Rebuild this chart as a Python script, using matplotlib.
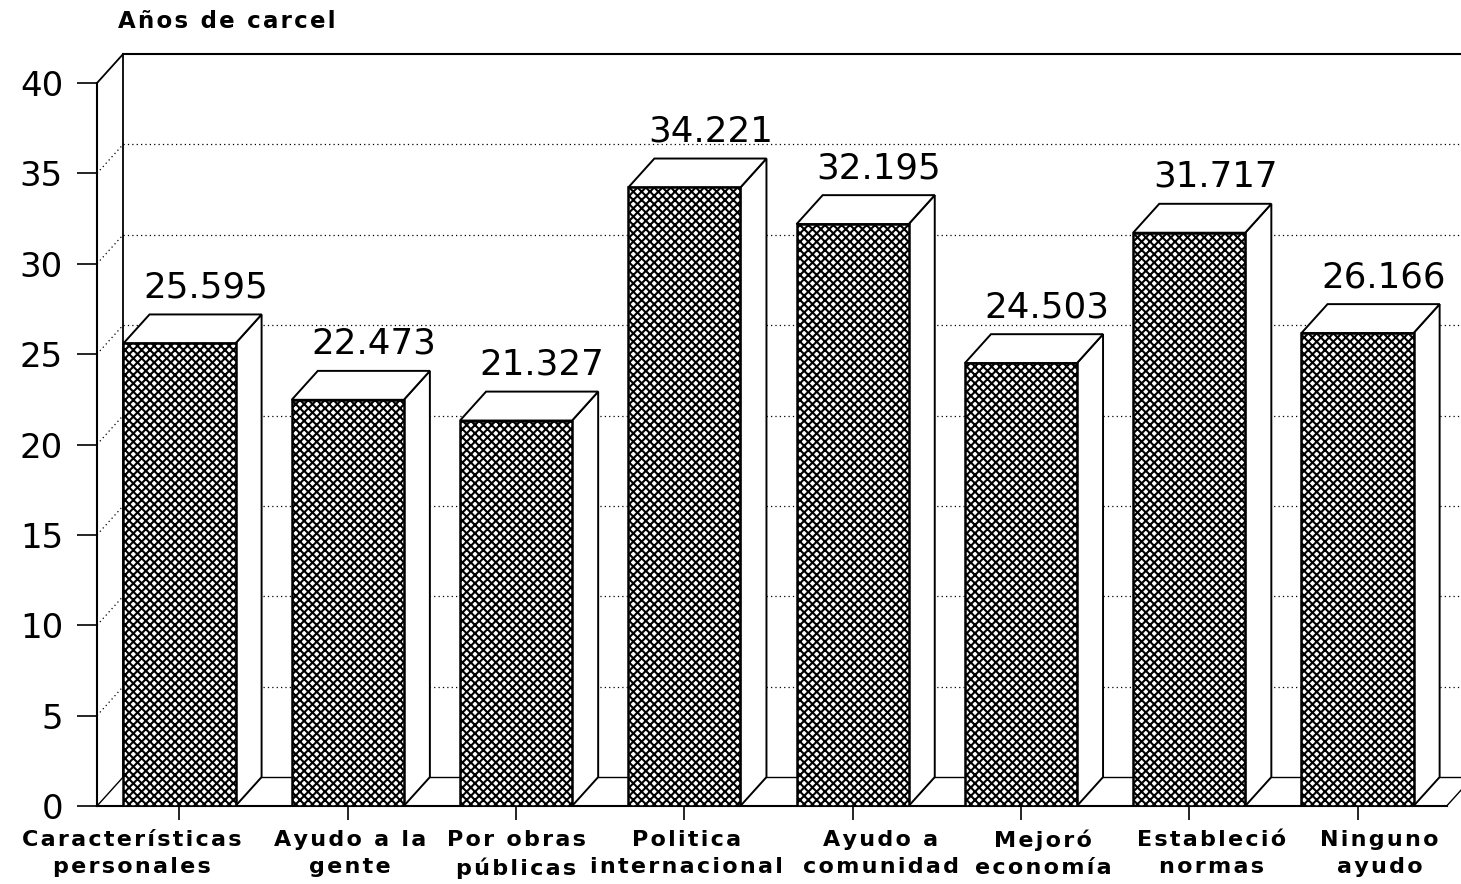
import numpy as np
import matplotlib.pyplot as plt
from matplotlib.patches import Polygon

# datos
categories = ['Características\npersonales', 'Ayudo a la\ngente', 'Por obras\npúblicas',
              'Politica\ninternacional', 'Ayudo a\ncomunidad', 'Mejoró\neconomía',
              'Estableció\nnormas', 'Ninguno\nayudo']
values = [25.595, 22.473, 21.327, 34.221, 32.195, 24.503, 31.717, 26.166]
y_ticks = [0, 5, 10, 15, 20, 25, 30, 35, 40]
title = 'Años de carcel'

# layout (pixels shift of the category labels)
label_shift = [-48, 2, 0, 2, 28, 22, 22, 22]


def spaced(s):
    return '\n'.join('\u200a'.join(line) for line in s.split('\n'))


plt.rcParams['font.family'] = ['DejaVu Sans']
plt.rcParams['hatch.linewidth'] = 1.5

W, H = 1461, 884
fig = plt.figure(figsize=(W / 100, H / 100), dpi=100)
ax = fig.add_axes([97 / W, 78 / H, 1 - 97 / W, 723 / H])
x0, x1 = -0.49, 7.615
ax.set_xlim(x0, x1)
ax.set_ylim(0, 40)
for s in ax.spines.values():
    s.set_visible(False)

dx, dy = 0.155, 1.6   # depth offset
bw = 0.333             # half bar width
x = np.arange(len(values))
x_end = 7.53

# back wall, floor and grid
ax.plot([x0 + dx, x0 + dx], [dy, 40 + dy], color='black', lw=1.3, clip_on=False)
ax.plot([x0 + dx, x1 + 0.2], [40 + dy, 40 + dy], color='black', lw=1.5, clip_on=False)
ax.plot([x0, x0 + dx], [40, 40 + dy], color='black', lw=1.3, clip_on=False)
ax.plot([x0, x0], [0, 40], color='black', lw=1.5, clip_on=False)
ax.plot([x0, x_end], [0, 0], color='black', lw=1.5, clip_on=False)
ax.plot([x0, x0 + dx], [0, dy], color='black', lw=1.0, clip_on=False)
ax.plot([x_end, x_end + dx], [0, dy], color='black', lw=1.0, clip_on=False)
ax.plot([x0 + dx, x1 + 0.2], [dy, dy], color='black', lw=1.0, clip_on=False)
for t in y_ticks[1:-1]:
    ax.plot([x0 + dx, x1 + 0.2], [t + dy, t + dy], color='black', lw=0.9,
            ls=(0, (1, 2.5)), clip_on=False)
    ax.plot([x0, x0 + dx], [t, t + dy], color='black', lw=0.9,
            ls=(0, (1, 2.5)), clip_on=False)

# bars
for xi, v in zip(x, values):
    l, r = xi - bw, xi + bw
    side = [(r, 0), (r + dx, dy), (r + dx, v + dy), (r, v)]
    top = [(l, v), (l + dx, v + dy), (r + dx, v + dy), (r, v)]
    front = [(l, 0), (r, 0), (r, v), (l, v)]
    ax.add_patch(Polygon(side, closed=True, facecolor='white', edgecolor='black', lw=1.4, zorder=3))
    ax.add_patch(Polygon(top, closed=True, facecolor='white', edgecolor='black', lw=1.4, zorder=3))
    ax.add_patch(Polygon(front, closed=True, facecolor='white', edgecolor='black', lw=1.8,
                         hatch='xxxx', zorder=4))
    ax.text(xi + dx, v + dy + 0.55, f'{v:.3f}', ha='center', va='bottom', fontsize=25.7, zorder=5)

ax.set_yticks(y_ticks)
ax.tick_params(axis='y', length=14.4, width=1.2, pad=10, labelsize=24.5)
ax.set_xticks(x)
ax.set_xticklabels([])
ax.tick_params(axis='x', length=10, width=1.2)

for xi, lab, sh in zip(x, categories, label_shift):
    ax.annotate(spaced(lab), xy=(xi, 0), xytext=(sh * 0.72, -17), textcoords='offset points',
                ha='center', va='top', fontsize=16, fontweight='bold', linespacing=1.45,
                annotation_clip=False)

fig.text(118 / W, 1 - 22 / H, spaced(title), ha='left', va='center', fontsize=16.5, fontweight='bold')

fig.savefig('out.png', dpi=100, facecolor='white')
